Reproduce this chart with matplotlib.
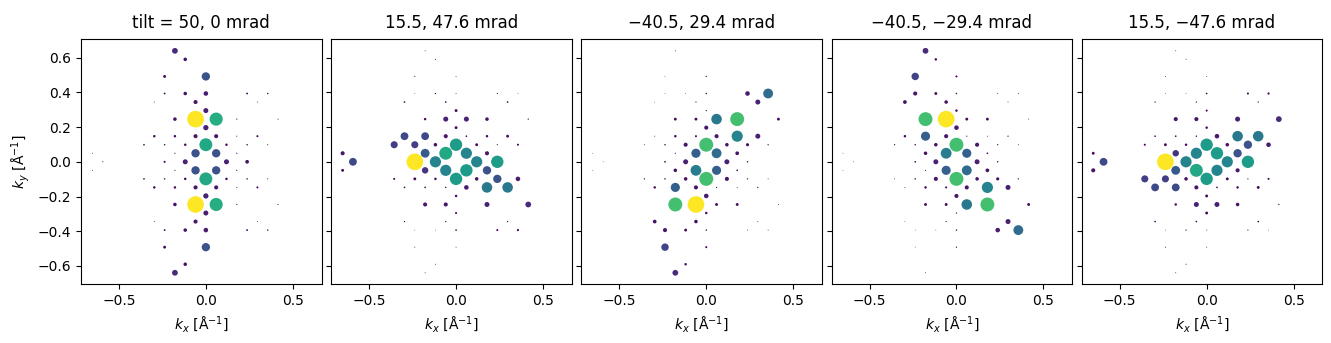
import numpy as np
import matplotlib
matplotlib.use("Agg")
import matplotlib.pyplot as plt

# lattice spacing (1/Angstrom) of the reflection grid
dkx = 0.0593
dky = 0.0492

titles = ["tilt = 50, 0 mrad", "15.5, 47.6 mrad", "\u221240.5, 29.4 mrad",
          "\u221240.5, \u221229.4 mrad", "15.5, \u221247.6 mrad"]

# (h, k, relative intensity) for each tilt
spots_1 = [
    (-3, 13, 0.12), (-2, 12, 0.045), (-4, 10, 0.03), (0, 10, 0.25),
    (-4, 8, 0.012), (-2, 8, 0.045), (0, 8, 0.075), (4, 8, 0.012), (6, 8, 0.008),
    (-5, 7, 0.003), (-1, 7, 0.06), (5, 7, 0.003), (0, 6, 0.09),
    (-3, 5, 0.045), (-1, 5, 1.0), (1, 5, 0.62), (3, 5, 0.005), (7, 5, 0.004),
    (0, 4, 0.1),
    (-5, 3, 0.022), (-3, 3, 0.022), (-1, 3, 0.06), (1, 3, 0.06), (3, 3, 0.004), (5, 3, 0.015),
    (-6, 2, 0.01), (-4, 2, 0.008), (-2, 2, 0.022), (0, 2, 0.6), (2, 2, 0.022), (4, 2, 0.008), (6, 2, 0.004),
    (-11, 1, 0.003), (-3, 1, 0.005), (-1, 1, 0.25), (1, 1, 0.25), (3, 1, 0.005),
    (-10, 0, 0.004), (-4, 0, 0.015), (-2, 0, 0.09), (2, 0, 0.09), (4, 0, 0.05),
    (-11, -1, 0.003), (-3, -1, 0.005), (-1, -1, 0.25), (1, -1, 0.25), (3, -1, 0.005),
    (-6, -2, 0.01), (-4, -2, 0.008), (-2, -2, 0.022), (0, -2, 0.6), (2, -2, 0.022), (4, -2, 0.008), (6, -2, 0.004),
    (-5, -3, 0.022), (-3, -3, 0.022), (-1, -3, 0.06), (1, -3, 0.06), (3, -3, 0.004), (5, -3, 0.015),
    (0, -4, 0.1),
    (-3, -5, 0.045), (-1, -5, 1.0), (1, -5, 0.62), (3, -5, 0.005), (7, -5, 0.004),
    (0, -6, 0.09), (-5, -7, 0.003), (-1, -7, 0.06), (5, -7, 0.003),
    (-4, -8, 0.012), (-2, -8, 0.045), (0, -8, 0.075), (4, -8, 0.012), (6, -8, 0.008),
    (-4, -10, 0.03), (0, -10, 0.25), (-2, -12, 0.045), (-3, -13, 0.12),
]

spots_2 = [
    (-3, 13, 0.003), (-2, 12, 0.004), (-4, 10, 0.004), (0, 10, 0.003),
    (-4, 8, 0.002), (-2, 8, 0.006), (0, 8, 0.003), (4, 8, 0.005), (6, 8, 0.002),
    (-5, 7, 0.01), (-1, 7, 0.01), (5, 7, 0.01), (0, 6, 0.03),
    (-3, 5, 0.022), (-1, 5, 0.09), (1, 5, 0.09), (3, 5, 0.045), (7, 5, 0.006),
    (0, 4, 0.03),
    (-5, 3, 0.22), (-3, 3, 0.22), (-1, 3, 0.06), (1, 3, 0.01), (3, 3, 0.022), (5, 3, 0.03),
    (-6, 2, 0.18), (-4, 2, 0.18), (-2, 2, 0.045), (0, 2, 0.55), (2, 2, 0.03), (4, 2, 0.005), (6, 2, 0.015),
    (-11, 1, 0.06), (-3, 1, 0.28), (-1, 1, 0.6), (1, 1, 0.45), (3, 1, 0.06),
    (-10, 0, 0.22), (-4, 0, 1.0), (-2, 0, 0.45), (2, 0, 0.45), (4, 0, 0.55),
    (-11, -1, 0.03), (-3, -1, 0.15), (-1, -1, 0.45), (1, -1, 0.55), (3, -1, 0.25),
    (-6, -2, 0.015), (-4, -2, 0.03), (-2, -2, 0.022), (0, -2, 0.55), (2, -2, 0.045), (4, -2, 0.25), (6, -2, 0.075),
    (-5, -3, 0.01), (-3, -3, 0.01), (-1, -3, 0.008), (1, -3, 0.075), (3, -3, 0.4), (5, -3, 0.4),
    (0, -4, 0.022),
    (-3, -5, 0.06), (-1, -5, 0.06), (3, -5, 0.09), (7, -5, 0.12),
    (0, -6, 0.015), (-5, -7, 0.006), (-1, -7, 0.006), (5, -7, 0.006),
    (-4, -8, 0.002), (-2, -8, 0.002), (0, -8, 0.01), (4, -8, 0.015), (6, -8, 0.018),
    (-4, -10, 0.003), (0, -10, 0.003), (-2, -12, 0.003), (-3, -13, 0.003),
]

spots_3 = [
    (-3, 13, 0.003), (-4, 10, 0.002), (0, 10, 0.006),
    (-4, 8, 0.002), (-2, 8, 0.002), (0, 8, 0.008), (4, 8, 0.075), (6, 8, 0.35),
    (-5, 7, 0.002), (-1, 7, 0.005), (5, 7, 0.09), (0, 6, 0.006),
    (-3, 5, 0.03), (-1, 5, 0.03), (1, 5, 0.4), (3, 5, 0.7), (7, 5, 0.03),
    (0, 4, 0.06),
    (-5, 3, 0.003), (-3, 3, 0.022), (-1, 3, 0.015), (1, 3, 0.06), (3, 3, 0.45), (5, 3, 0.09),
    (-6, 2, 0.003), (-4, 2, 0.008), (-2, 2, 0.06), (0, 2, 0.7), (2, 2, 0.045), (4, 2, 0.035), (6, 2, 0.006),
    (-11, 1, 0.002), (-3, 1, 0.005), (-1, 1, 0.3), (1, 1, 0.35), (3, 1, 0.05),
    (-10, 0, 0.002), (-4, 0, 0.01), (-2, 0, 0.09), (2, 0, 0.09), (4, 0, 0.008),
    (-11, -1, 0.002), (-3, -1, 0.045), (-1, -1, 0.42), (1, -1, 0.3), (3, -1, 0.01),
    (-6, -2, 0.006), (-4, -2, 0.008), (-2, -2, 0.045), (0, -2, 0.7), (2, -2, 0.06), (4, -2, 0.006), (6, -2, 0.003),
    (-5, -3, 0.022), (-3, -3, 0.3), (-1, -3, 0.06), (1, -3, 0.005), (3, -3, 0.003), (5, -3, 0.006),
    (0, -4, 0.075),
    (-3, -5, 0.7), (-1, -5, 1.0), (1, -5, 0.03), (3, -5, 0.03), (7, -5, 0.003),
    (0, -6, 0.022), (-5, -7, 0.05), (-1, -7, 0.045), (5, -7, 0.003),
    (-4, -8, 0.06), (-2, -8, 0.03), (0, -8, 0.008), (4, -8, 0.003), (6, -8, 0.003),
    (-4, -10, 0.2), (0, -10, 0.015), (-2, -12, 0.022), (-3, -13, 0.12),
]

spots_4 = [
    (-3, -13, 0.003), (-4, -10, 0.002), (0, -10, 0.006),
    (-4, -8, 0.002), (-2, -8, 0.002), (0, -8, 0.008), (4, -8, 0.075), (6, -8, 0.35),
    (-5, -7, 0.002), (-1, -7, 0.005), (5, -7, 0.09), (0, -6, 0.006),
    (-3, -5, 0.03), (-1, -5, 0.03), (1, -5, 0.4), (3, -5, 0.7), (7, -5, 0.03),
    (0, -4, 0.06),
    (-5, -3, 0.003), (-3, -3, 0.022), (-1, -3, 0.015), (1, -3, 0.06), (3, -3, 0.45), (5, -3, 0.09),
    (-6, -2, 0.003), (-4, -2, 0.008), (-2, -2, 0.06), (0, -2, 0.7), (2, -2, 0.045), (4, -2, 0.035), (6, -2, 0.006),
    (-11, -1, 0.002), (-3, -1, 0.005), (-1, -1, 0.3), (1, -1, 0.35), (3, -1, 0.05),
    (-10, 0, 0.002), (-4, 0, 0.01), (-2, 0, 0.09), (2, 0, 0.09), (4, 0, 0.008),
    (-11, 1, 0.002), (-3, 1, 0.045), (-1, 1, 0.42), (1, 1, 0.3), (3, 1, 0.01),
    (-6, 2, 0.006), (-4, 2, 0.008), (-2, 2, 0.045), (0, 2, 0.7), (2, 2, 0.06), (4, 2, 0.006), (6, 2, 0.003),
    (-5, 3, 0.022), (-3, 3, 0.3), (-1, 3, 0.06), (1, 3, 0.005), (3, 3, 0.003), (5, 3, 0.006),
    (0, 4, 0.075),
    (-3, 5, 0.7), (-1, 5, 1.0), (1, 5, 0.03), (3, 5, 0.03), (7, 5, 0.003),
    (0, 6, 0.022), (-5, 7, 0.05), (-1, 7, 0.045), (5, 7, 0.003),
    (-4, 8, 0.06), (-2, 8, 0.03), (0, 8, 0.008), (4, 8, 0.003), (6, 8, 0.003),
    (-4, 10, 0.2), (0, 10, 0.015), (-2, 12, 0.022), (-3, 13, 0.12),
]

spots_5 = [
    (-3, -13, 0.003), (-2, -12, 0.004), (-4, -10, 0.004), (0, -10, 0.003),
    (-4, -8, 0.002), (-2, -8, 0.006), (0, -8, 0.003), (4, -8, 0.005), (6, -8, 0.002),
    (-5, -7, 0.01), (-1, -7, 0.01), (5, -7, 0.01), (0, -6, 0.03),
    (-3, -5, 0.022), (-1, -5, 0.09), (1, -5, 0.09), (3, -5, 0.045), (7, -5, 0.006),
    (0, -4, 0.03),
    (-5, -3, 0.22), (-3, -3, 0.22), (-1, -3, 0.06), (1, -3, 0.01), (3, -3, 0.022), (5, -3, 0.03),
    (-6, -2, 0.18), (-4, -2, 0.18), (-2, -2, 0.045), (0, -2, 0.55), (2, -2, 0.03), (4, -2, 0.005), (6, -2, 0.015),
    (-11, -1, 0.06), (-3, -1, 0.28), (-1, -1, 0.6), (1, -1, 0.45), (3, -1, 0.06),
    (-10, 0, 0.22), (-4, 0, 1.0), (-2, 0, 0.45), (2, 0, 0.45), (4, 0, 0.55),
    (-11, 1, 0.03), (-3, 1, 0.15), (-1, 1, 0.45), (1, 1, 0.55), (3, 1, 0.25),
    (-6, 2, 0.015), (-4, 2, 0.03), (-2, 2, 0.022), (0, 2, 0.55), (2, 2, 0.045), (4, 2, 0.25), (6, 2, 0.075),
    (-5, 3, 0.01), (-3, 3, 0.01), (-1, 3, 0.008), (1, 3, 0.075), (3, 3, 0.4), (5, 3, 0.4),
    (0, 4, 0.022),
    (-3, 5, 0.06), (-1, 5, 0.06), (3, 5, 0.09), (7, 5, 0.12),
    (0, 6, 0.015), (-5, 7, 0.006), (-1, 7, 0.006), (5, 7, 0.006),
    (-4, 8, 0.002), (-2, 8, 0.002), (0, 8, 0.01), (4, 8, 0.015), (6, 8, 0.018),
    (-4, 10, 0.003), (0, 10, 0.003), (-2, 12, 0.003), (-3, 13, 0.003),
]

all_spots = [spots_1, spots_2, spots_3, spots_4, spots_5]

xticks = [-0.5, 0.0, 0.5]
yticks = [-0.6, -0.4, -0.2, 0.0, 0.2, 0.4, 0.6]

W, H = 1331, 343
fig = plt.figure(figsize=(W / 100, H / 100), dpi=100)

for p, (spots, title) in enumerate(zip(all_spots, titles)):
    left = (81 + 250.2 * p) / W
    ax = fig.add_axes([left, (H - 284.3) / H, 240.5 / W, 245.0 / H])
    arr = np.array(spots, dtype=float)
    kx = arr[:, 0] * dkx
    ky = arr[:, 1] * dky
    inten = arr[:, 2]
    order = np.argsort(inten)
    ax.scatter(kx[order], ky[order], s=144 * inten[order] / inten.max(),
               c=inten[order], cmap="viridis", vmin=0, vmax=inten.max(),
               linewidths=0)
    ax.set_xlim(-0.718, 0.665)
    ax.set_ylim(-0.706, 0.706)
    ax.set_xticks(xticks)
    ax.set_yticks(yticks)
    ax.set_title(title, fontsize=12, pad=8)
    ax.set_xlabel(r"$k_x$ [Å$^{-1}$]")
    if p == 0:
        ax.set_ylabel(r"$k_y$ [Å$^{-1}$]")
    else:
        ax.tick_params(labelleft=False)

fig.savefig("out.png", dpi=100)
